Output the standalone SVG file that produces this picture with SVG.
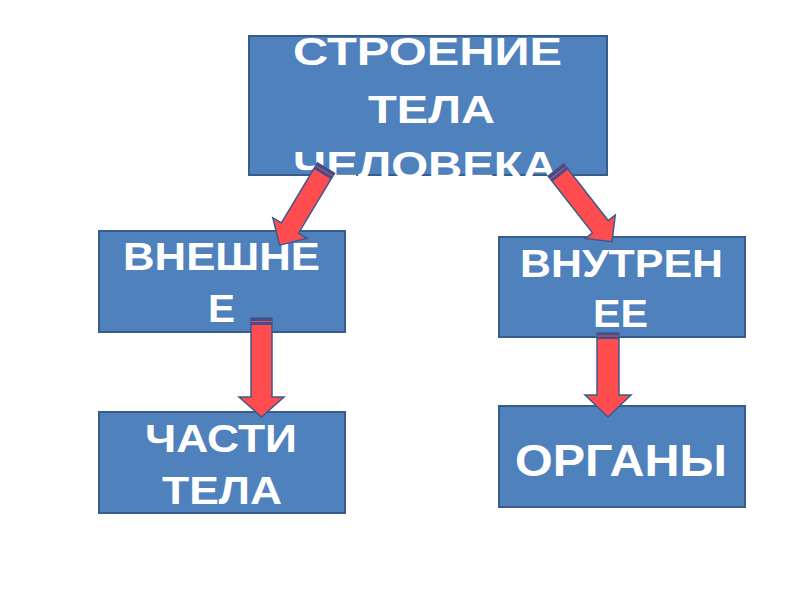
<svg xmlns="http://www.w3.org/2000/svg" width="800" height="600" viewBox="0 0 800 600">
<style>
.box{fill:#4F81BD;stroke:#385D8A;stroke-width:2}
.t{font-family:"Liberation Sans",Arial,sans-serif;font-weight:bold;fill:#FFFFFF}
.arr{fill:#FF4D4F;stroke:#3E5A8E;stroke-width:1.5;stroke-linejoin:miter}
.cap{fill:#3E4F8C}
.capl{stroke:#E0505A;stroke-width:1}
</style>
<rect width="800" height="600" fill="#FFFFFF"/>
<g id="node-top">
<rect class="box" x="249" y="36" width="358" height="139"/>
<text class="t" font-size="39" x="293" y="65" textLength="269" lengthAdjust="spacingAndGlyphs">СТРОЕНИЕ</text>
<text class="t" font-size="39" x="368" y="123" textLength="127" lengthAdjust="spacingAndGlyphs">ТЕЛА</text>
<text class="t" font-size="39" x="293" y="179" textLength="264" lengthAdjust="spacingAndGlyphs">ЧЕЛОВЕКА</text>
</g>
<g id="node-outer">
<rect class="box" x="99" y="231" width="246" height="101"/>
<text class="t" font-size="39" x="123" y="270" textLength="197" lengthAdjust="spacingAndGlyphs">ВНЕШНЕ</text>
<text class="t" font-size="39" x="208" y="322" textLength="27" lengthAdjust="spacingAndGlyphs">Е</text>
</g>
<g id="node-inner">
<rect class="box" x="499" y="237" width="246" height="100"/>
<text class="t" font-size="39" x="520" y="277" textLength="203" lengthAdjust="spacingAndGlyphs">ВНУТРЕН</text>
<text class="t" font-size="39" x="593" y="327" textLength="55" lengthAdjust="spacingAndGlyphs">ЕЕ</text>
</g>
<g id="node-parts">
<rect class="box" x="99" y="412" width="246" height="101"/>
<text class="t" font-size="39" x="145" y="452" textLength="152" lengthAdjust="spacingAndGlyphs">ЧАСТИ</text>
<text class="t" font-size="39" x="162" y="504" textLength="120" lengthAdjust="spacingAndGlyphs">ТЕЛА</text>
</g>
<g id="node-organs">
<rect class="box" x="499" y="406" width="246" height="101"/>
<text class="t" font-size="45" x="515" y="476" textLength="212" lengthAdjust="spacingAndGlyphs">ОРГАНЫ</text>
</g>
<g id="connectors">
<g transform="translate(326,168) rotate(31)">
<path class="arr" d="M-10,0 L10,0 L10,70 L20,70 L0,90 L-20,70 L-10,70 Z"/>
<rect class="cap" x="-10" y="0" width="20" height="7"/>
<line class="capl" x1="-10" y1="3.5" x2="10" y2="3.5"/>
</g>
<g transform="translate(556,170) rotate(-38)">
<path class="arr" d="M-10,0 L10,0 L10,72 L19,72 L0,91 L-19,72 L-10,72 Z"/>
<rect class="cap" x="-10" y="0" width="20" height="7"/>
<line class="capl" x1="-10" y1="3.5" x2="10" y2="3.5"/>
</g>
<g transform="translate(261.5,318)">
<path class="arr" d="M-10.5,0 L10.5,0 L10.5,79 L22.5,79 L0,99 L-22.5,79 L-10.5,79 Z"/>
<rect class="cap" x="-10.5" y="0" width="21" height="7"/>
<line class="capl" x1="-10.5" y1="3.5" x2="10.5" y2="3.5"/>
</g>
<g transform="translate(608,333)">
<path class="arr" d="M-11,0 L11,0 L11,62 L23,62 L0,84 L-23,62 L-11,62 Z"/>
<rect class="cap" x="-11" y="0" width="22" height="6"/>
<line class="capl" x1="-11" y1="3" x2="11" y2="3"/>
</g>
</g>
</svg>
